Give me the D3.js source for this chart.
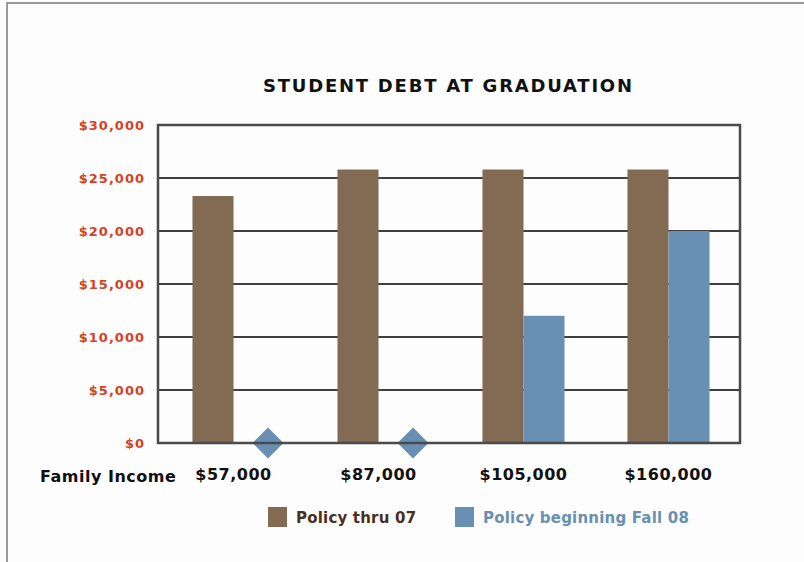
<!DOCTYPE html>
<html>
<head>
<meta charset="utf-8">
<script src="https://cdn.jsdelivr.net/npm/d3@7"></script>
<style>
  body { margin: 0; background: #fdfdfd; }
  svg { display: block; }
</style>
</head>
<body>
<div class="container"></div>
<script>
var incomes = ['$57,000', '$87,000', '$105,000', '$160,000'];
var policyOld = [23300, 25800, 25800, 25800];
var policyNew = [0, 0, 12000, 20000];
var seriesNames = ['Policy thru 07', 'Policy beginning Fall 08'];
var yTicks = [0, 5000, 10000, 15000, 20000, 25000, 30000];

var WIDTH = 804, HEIGHT = 562;
var BROWN = '#836a53', BLUE = '#6890b2';

var translate = function (x, y) {
    return 'translate(' + x + ',' + y + ')';
};

var svg = d3.select('.container').append('svg')
    .attr('width', WIDTH)
    .attr('height', HEIGHT);

// frame (top + left edges of the cropped panel)
svg.append('path')
    .attr('d', 'M7,' + HEIGHT + 'V3H' + WIDTH)
    .attr('fill', 'none')
    .attr('stroke', '#7a7a7a')
    .attr('stroke-width', 1.5);

var x = d3.scaleBand().domain(incomes).range([160, 742])
    .paddingInner(0.434).paddingOuter(0.224);
var sub = d3.scaleBand().domain([0, 1]).range([0, x.bandwidth()]);
var y = d3.scaleLinear().domain([0, 30000]).range([443, 125]);

// title
svg.append('text')
    .attr('x', 263).attr('y', 92)
    .attr('textLength', 369).attr('lengthAdjust', 'spacing')
    .style('font-family', 'DejaVu Sans, sans-serif')
    .style('font-weight', 'bold')
    .style('font-size', '18px')
    .attr('fill', '#111')
    .text('STUDENT DEBT AT GRADUATION');

// gridlines
svg.append('g').selectAll('line')
    .data(yTicks)
    .enter().append('line')
    .attr('x1', 158).attr('x2', 740)
    .attr('y1', function (d) { return y(d); })
    .attr('y2', function (d) { return y(d); })
    .attr('stroke', '#3f3f3f')
    .attr('stroke-width', 2);

// y labels
var yAxis = d3.axisLeft(y).tickValues(yTicks).tickSize(0).tickPadding(13)
    .tickFormat(function (d) { return '$' + d3.format(',')(d); });
var yg = svg.append('g').attr('transform', translate(158, 0)).call(yAxis);
yg.select('.domain').remove();
yg.selectAll('text')
    .style('font-family', 'DejaVu Sans, sans-serif')
    .style('font-weight', 'bold')
    .style('font-size', '13px')
    .style('letter-spacing', '1px')
    .attr('fill', '#d8401f');

// bars
var groups = svg.append('g').selectAll('g')
    .data(incomes)
    .enter().append('g')
    .attr('transform', function (d) { return translate(x(d), 0); });

groups.append('rect')
    .attr('x', sub(0))
    .attr('width', sub.bandwidth())
    .attr('y', function (d, i) { return y(policyOld[i]); })
    .attr('height', function (d, i) { return y(0) - y(policyOld[i]); })
    .attr('fill', BROWN);

groups.filter(function (d, i) { return policyNew[i] > 0; })
    .append('rect')
    .attr('x', sub(1))
    .attr('width', sub.bandwidth())
    .attr('y', function (d) { return y(policyNew[incomes.indexOf(d)]); })
    .attr('height', function (d) { return y(0) - y(policyNew[incomes.indexOf(d)]); })
    .attr('fill', BLUE);

// plot border
svg.append('rect')
    .attr('x', 158).attr('y', 125)
    .attr('width', 582).attr('height', 318)
    .attr('fill', 'none')
    .attr('stroke', '#4a4a4a')
    .attr('stroke-width', 2.5);

// zero markers for the new policy
groups.filter(function (d, i) { return policyNew[i] === 0; })
    .append('path')
    .attr('d', d3.symbol().type(d3.symbolSquare).size(480))
    .attr('transform', function (d) {
        return translate(sub(1) + sub.bandwidth() / 2 + 14, y(0)) + ' rotate(45)';
    })
    .attr('fill', BLUE);

// x labels
var labelStyle = function (sel) {
    sel.style('font-family', 'DejaVu Sans, sans-serif')
        .style('font-weight', 'bold')
        .style('font-size', '16px')
        .style('letter-spacing', '0.5px')
        .attr('fill', '#111');
};
var xAxis = d3.axisBottom(x).tickSize(0).tickPadding(26);
var xg = svg.append('g').attr('transform', translate(0, 443)).call(xAxis);
xg.select('.domain').remove();
xg.selectAll('text').call(labelStyle);

svg.append('text')
    .attr('x', 40).attr('y', 482)
    .call(labelStyle)
    .text('Family Income');

// legend
var legendX = [268, 455];
var legendTextColor = ['#4b2f1c', BLUE];
var legend = svg.append('g').selectAll('g')
    .data(seriesNames)
    .enter().append('g')
    .attr('transform', function (d, i) { return translate(legendX[i], 507); });

legend.append('rect')
    .attr('width', 19).attr('height', 20)
    .attr('fill', function (d, i) { return i === 0 ? BROWN : BLUE; });

legend.append('text')
    .attr('x', 28).attr('y', 16)
    .style('font-family', 'DejaVu Sans, sans-serif')
    .style('font-weight', 'bold')
    .style('font-size', '15px')
    .style('letter-spacing', '0.2px')
    .attr('fill', function (d, i) { return legendTextColor[i]; })
    .text(function (d) { return d; });
</script>
</body>
</html>
